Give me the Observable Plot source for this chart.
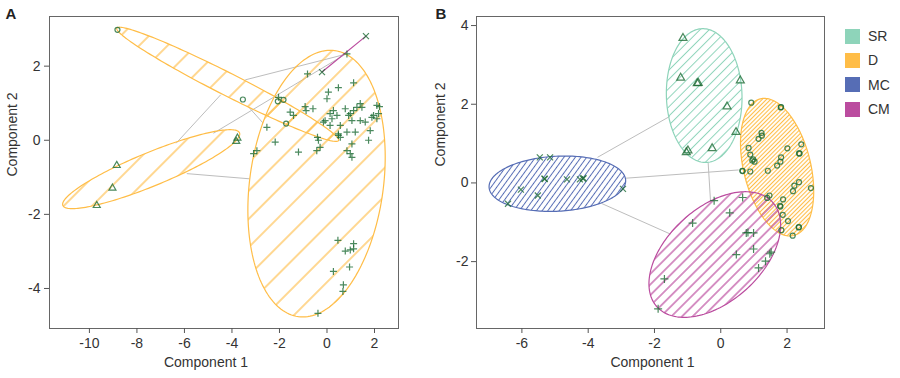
<!DOCTYPE html>
<html><head><meta charset="utf-8">
<script src="https://cdn.jsdelivr.net/npm/d3@7"></script>
<script src="https://cdn.jsdelivr.net/npm/@observablehq/plot@0.6"></script>
<style>
body{margin:0;background:#fff;}
#wrap{position:relative;width:900px;height:378px;font-family:'Liberation Sans',Arial,sans-serif;overflow:hidden;}
#wrap svg{position:absolute;top:0;max-width:none;}
.leg{position:absolute;left:845px;display:flex;align-items:center;font-size:14px;color:#333;z-index:2;}
.sw{width:15px;height:15px;margin-right:8px;}
</style></head>
<body><div id="wrap"></div>
<script>
// ---------- colours ----------
const colSR = "#8ed4ba", colD = "#ffbd47", colMC = "#566db5", colCM = "#bb4c9f";
const ptCol = "#1d6b34";

// ---------- legend ----------
const groups = ["SR", "D", "MC", "CM"];
const groupColors = [colSR, colD, colMC, colCM];

// ---------- panel A data ----------
const aCircles = [[-8.82,2.98],[-3.54,1.10],[-2.07,1.05],[-1.83,1.09],[-1.72,0.45]];
const aTriangles = [[-8.85,-0.68],[-9.03,-1.29],[-9.69,-1.76],[-3.77,0.06],[-3.82,-0.03]];
const aTimes = [[-0.21,1.84],[1.64,2.81]];
const aPlus = [[0.84,2.33],[-0.82,1.79],[1.12,1.55],[0.06,1.30],[0.48,1.42],[0.00,1.12],[-2.04,1.16],
 [-1.55,0.76],[-1.41,0.67],[-0.92,0.91],[-0.88,0.80],[-0.59,0.85],[-2.53,0.35],[-2.95,-0.28],[-3.09,-0.36],
 [-2.18,-0.05],[-1.20,-0.32],[-0.40,0.08],[-0.36,0.00],[-0.43,-0.28],[-0.29,-0.19],[0.13,0.72],[0.27,0.80],
 [0.42,0.67],[-0.08,0.53],[-0.15,0.49],[0.21,0.58],[0.13,0.40],[0.56,0.40],[0.48,0.17],[0.56,0.08],[0.77,0.85],
 [0.91,0.67],[0.98,0.72],[1.12,0.80],[1.26,0.89],[1.40,0.99],[1.47,0.89],[1.05,0.53],[1.40,0.53],[1.61,0.49],
 [1.89,0.62],[1.96,0.67],[2.10,0.58],[2.10,0.94],[2.21,0.91],[2.17,0.72],[1.82,0.26],[1.75,0.00],[1.19,0.22],
 [0.84,0.22],[1.05,-0.10],[0.84,-0.28],[0.98,-0.36],[1.05,-0.46],[0.48,0.13],
 [0.46,-2.70],[1.12,-2.79],[0.77,-2.99],[0.98,-2.96],[1.12,-2.93],[0.95,-3.42],[0.27,-3.54],[0.69,-3.90],[0.67,-4.08],[-0.38,-4.67]];
// ellipse parameters: centre x, centre y, axis-1 (dx, dy), axis-2 (dx, dy)
const ellA1 = [-4.18, 1.51, 4.665, -1.517, -0.213, -0.270];
const ellA2 = [-7.40, -0.78, 3.718, 0.980, 0.268, -0.417];
const ellA3 = [-0.44, -1.17, 0.767, 3.590, 2.787, -0.245];
const segA = [[-6.35,-0.08,-4.47,1.23],[-3.44,1.63,0.84,2.33],[-4.78,0.19,0.77,2.32],[-3.30,0.90,-2.70,0.47],[-5.90,-0.90,-3.26,-1.04]];
const ticksAx = [-10,-8,-6,-4,-2,0,2];
const ticksAy = [-4,-2,0,2];

// ---------- panel B data ----------
const bSR = [[-1.14,3.68],[-1.21,2.67],[-0.71,2.53],[-0.68,2.54],[0.59,2.60],[0.19,1.94],[0.46,1.29],[-0.26,0.88],[-0.99,0.82],[-1.04,0.78]];
const bD = [[0.92,2.04],[1.81,1.92],[1.82,1.93],[1.23,1.27],[1.24,1.20],[1.14,1.12],[2.43,0.98],[2.01,0.88],[2.36,0.75],[2.38,0.75],
 [0.84,0.89],[0.89,0.72],[0.98,0.60],[1.02,0.54],[0.95,0.57],[1.82,0.65],[1.80,0.54],[1.70,0.44],[1.42,0.31],[0.89,0.29],
 [0.65,0.31],[0.66,0.30],[2.72,-0.13],[2.36,0.02],[2.22,-0.07],[2.18,-0.21],[1.47,-0.32],[1.40,-0.38],[1.88,-0.42],[1.79,-0.58],
 [1.80,-0.60],[1.87,-0.81],[2.03,-0.97],[1.83,-1.20],[2.35,-1.13],[2.36,-1.12],[2.17,-1.34]];
const bMC = [[-5.46,0.65],[-5.15,0.65],[-5.31,0.10],[-5.32,0.11],[-4.64,0.09],[-4.25,0.09],[-4.14,0.12],[-4.16,0.11],[-6.03,-0.17],[-5.52,-0.32],[-6.42,-0.53],[-2.95,-0.15]];
const bCM = [[-0.20,-0.45],[0.66,-0.37],[0.27,-0.76],[-0.85,-1.02],[0.77,-1.27],[0.82,-1.26],[0.99,-1.27],[0.99,-1.68],[0.47,-1.82],
 [1.52,-1.76],[1.48,-1.80],[1.35,-1.99],[1.14,-2.16],[-1.70,-2.44],[-1.89,-3.20]];
const ellSR = [-0.50, 2.22, -0.06, 1.70, 1.14, 0.03];
const ellD = [1.70, 0.40, -0.503, 1.737, 0.983, 0.203];
const ellMC = [-4.93, -0.02, 2.06, 0.089, 0.042, -0.698];
const ellCM = [-0.18, -1.82, 1.747, 1.327, 0.946, -0.888];
const segB = [[-3.72,0.65,-1.54,1.69],[-2.87,0.12,0.54,0.33],[-3.60,-0.52,-1.52,-1.30],[-0.38,0.51,-0.31,-0.45]];
const ticksBx = [-6,-4,-2,0,2];
const ticksBy = [-2,0,2,4];

// ---------- helpers ----------
function ellipsePts(e) {
  const [cx, cy, ux, uy, vx, vy] = e, pts = [];
  for (let i = 0; i <= 180; i++) {
    const t = 2 * Math.PI * i / 180;
    pts.push({x: cx + ux * Math.cos(t) + vx * Math.sin(t), y: cy + uy * Math.cos(t) + vy * Math.sin(t)});
  }
  return pts;
}
function defsMark(specs) {
  return () => {
    const ns = "http://www.w3.org/2000/svg";
    const defs = document.createElementNS(ns, "defs");
    for (const [id, color, sp, ang, w] of specs) {
      const p = document.createElementNS(ns, "pattern");
      p.setAttribute("id", id);
      p.setAttribute("patternUnits", "userSpaceOnUse");
      p.setAttribute("width", sp); p.setAttribute("height", sp);
      p.setAttribute("patternTransform", `rotate(${ang})`);
      const l = document.createElementNS(ns, "line");
      l.setAttribute("x1", sp / 2); l.setAttribute("x2", sp / 2);
      l.setAttribute("y1", -1); l.setAttribute("y2", sp + 1);
      l.setAttribute("stroke", color); l.setAttribute("stroke-width", w);
      p.appendChild(l); defs.appendChild(p);
    }
    return defs;
  };
}
const X = d => d[0], Y = d => d[1];
const fmt = d => String(d);
function ellMark(e, pat, color) {
  return Plot.line(ellipsePts(e), {x: "x", y: "y", fill: `url(#${pat})`, stroke: color, strokeWidth: 1.2});
}
function dots(data, symbol, r) {
  return Plot.dot(data, {x: X, y: Y, symbol, r, fill: "none", stroke: ptCol, strokeWidth: 1.2, strokeOpacity: 0.8});
}
const fontStyle = {fontFamily: "'Liberation Sans', Arial, sans-serif", fontSize: "14px", color: "#333", background: "transparent"};

// ---------- panel A ----------
const plotA = Plot.plot({
  width: 430, height: 378,
  marginLeft: 49, marginRight: 32, marginTop: 16, marginBottom: 50,
  style: fontStyle,
  x: {domain: [-11.68, 3.01]},
  y: {domain: [-5.08, 3.34]},
  marks: [
    defsMark([["hA1", colD, 20, 45, 1.2], ["hA2", colD, 20, 45, 1.2], ["hA3", colD, 20, 45, 1.2]]),
    Plot.link(segA, {x1: d => d[0], y1: d => d[1], x2: d => d[2], y2: d => d[3], stroke: "#bdbdbd", strokeWidth: 1}),
    ellMark(ellA1, "hA1", colD),
    ellMark(ellA2, "hA2", colD),
    ellMark(ellA3, "hA3", colD),
    Plot.line(aTimes, {x: X, y: Y, stroke: colCM, strokeWidth: 1.2}),
    dots(aPlus, "plus", 2.39),
    dots(aCircles, "circle", 2.5),
    dots(aTriangles, "triangle2", 3.34),
    dots(aTimes, "times", 2.83),
    Plot.frame({stroke: "#666"}),
    Plot.axisX({ticks: ticksAx, tickFormat: fmt, tickSize: 5, tickPadding: 5, label: null, fontSize: 14, stroke: "#555", fill: "#333"}),
    Plot.axisY({ticks: ticksAy, tickFormat: fmt, tickSize: 5, tickPadding: 4, label: null, fontSize: 14, stroke: "#555", fill: "#333"}),
    Plot.text(["Component 1"], {text: d => d, frameAnchor: "bottom", dy: 38, dx: -18, fontSize: 14, fill: "#333"}),
    Plot.text(["Component 2"], {text: d => d, frameAnchor: "left", dx: -37, dy: 4, rotate: -90, fontSize: 14, fill: "#333"}),
    Plot.text(["A"], {text: d => d, frameAnchor: "top-left", dx: -44, dy: -8, textAnchor: "start", lineAnchor: "top", fontSize: 15, fontWeight: "bold", fill: "#222"})
  ]
});
plotA.style.left = "0px";

// ---------- panel B ----------
const plotB = Plot.plot({
  width: 470, height: 378,
  marginLeft: 46, marginRight: 76, marginTop: 16, marginBottom: 50,
  style: fontStyle,
  x: {domain: [-7.37, 3.13]},
  y: {domain: [-3.70, 4.23]},
  marks: [
    defsMark([["hSR", colSR, 6.5, 45, 1], ["hD", colD, 3, 45, 1.1], ["hMC", colMC, 4.6, 36, 1], ["hCM", colCM, 7.5, 45, 1.2]]),
    Plot.link(segB, {x1: d => d[0], y1: d => d[1], x2: d => d[2], y2: d => d[3], stroke: "#bdbdbd", strokeWidth: 1}),
    ellMark(ellSR, "hSR", colSR),
    ellMark(ellD, "hD", colD),
    ellMark(ellMC, "hMC", colMC),
    ellMark(ellCM, "hCM", colCM),
    dots(bSR, "triangle2", 3.8),
    dots(bD, "circle", 2.5),
    dots(bMC, "times", 2.83),
    dots(bCM, "plus", 2.7),
    Plot.frame({stroke: "#666"}),
    Plot.axisX({ticks: ticksBx, tickFormat: fmt, tickSize: 5, tickPadding: 5, label: null, fontSize: 14, stroke: "#555", fill: "#333"}),
    Plot.axisY({ticks: ticksBy, tickFormat: fmt, tickSize: 5, tickPadding: 3, label: null, fontSize: 14, stroke: "#555", fill: "#333"}),
    Plot.text(["Component 1"], {text: d => d, frameAnchor: "bottom", dy: 38, dx: 2, fontSize: 14, fill: "#333"}),
    Plot.text(["Component 2"], {text: d => d, frameAnchor: "left", dx: -36, dy: -6, rotate: -90, fontSize: 14, fill: "#333"}),
    Plot.text(["B"], {text: d => d, frameAnchor: "top-left", dx: -41, dy: -8, textAnchor: "start", lineAnchor: "top", fontSize: 15, fontWeight: "bold", fill: "#222"})
  ]
});
plotB.style.left = "430px";

const wrap = document.getElementById("wrap");
wrap.appendChild(plotA);
wrap.appendChild(plotB);

groups.forEach((g, i) => {
  const row = document.createElement("div");
  row.className = "leg";
  row.style.top = (28 + i * 24.4) + "px";
  const sw = document.createElement("div");
  sw.className = "sw";
  sw.style.background = groupColors[i];
  const t = document.createElement("span");
  t.textContent = g;
  row.appendChild(sw); row.appendChild(t);
  wrap.appendChild(row);
});
</script></body></html>
